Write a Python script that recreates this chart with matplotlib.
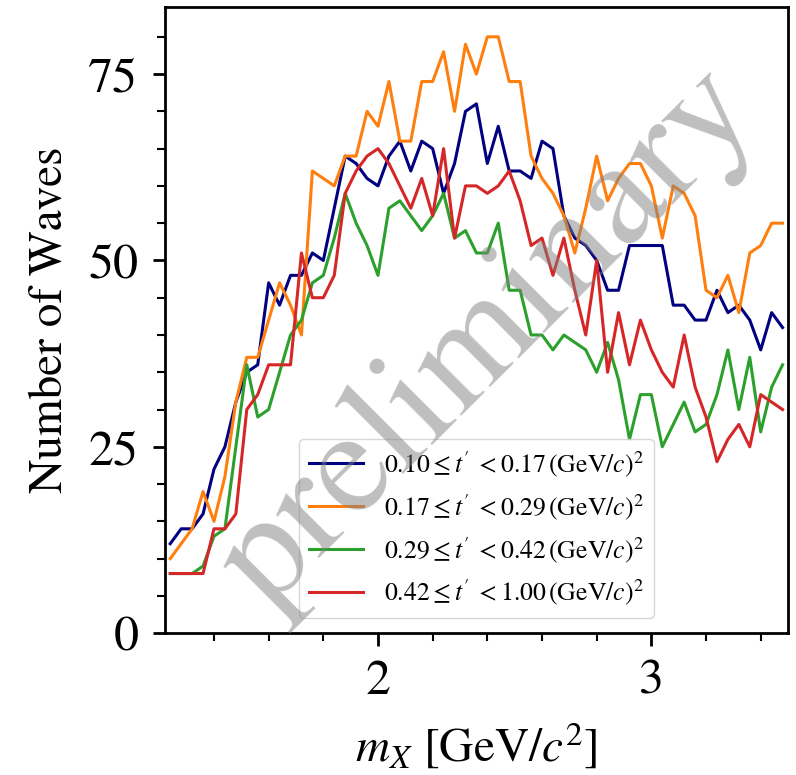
import numpy as np
import matplotlib
matplotlib.use("Agg")
import matplotlib.pyplot as plt
from matplotlib.ticker import MultipleLocator

plt.rcParams['font.family'] = ['STIXGeneral', 'DejaVu Serif']
plt.rcParams['mathtext.fontset'] = 'stix'

# mass bin centres: 57 bins of 40 MeV between 1.22 and 3.50 GeV
m_lo, m_hi, n_bins = 1.22, 3.50, 57
mass = np.linspace(m_lo, m_hi, n_bins + 1)
mass = 0.5 * (mass[1:] + mass[:-1])

labels = [
    r"$0.10 \leq t'\; < 0.17\,(\mathrm{GeV}/c)^2$",
    r"$0.17 \leq t'\; < 0.29\,(\mathrm{GeV}/c)^2$",
    r"$0.29 \leq t'\; < 0.42\,(\mathrm{GeV}/c)^2$",
    r"$0.42 \leq t'\; < 1.00\,(\mathrm{GeV}/c)^2$",
]
colors = ['navy', 'tab:orange', 'tab:green', 'tab:red']

waves_bin1 = [12, 14, 14, 16, 22, 25, 31, 35, 36, 47, 44, 48, 48,
              51, 50, 57, 64, 63, 61, 60, 64, 66, 62,
              66, 65, 59, 63, 70, 71, 63, 68, 62, 62,
              61, 66, 65, 56, 53, 52, 50, 46, 46, 52,
              52, 52, 52, 44, 44, 42, 42, 46, 43, 44, 42, 38, 43, 41]
waves_bin2 = [10, 12, 14, 19, 15, 21, 31, 37, 37, 42, 47, 44, 40,
              62, 61, 60, 64, 64, 70, 68, 74, 66, 66,
              74, 74, 78, 70, 79, 75, 80, 80, 74, 74,
              64, 61, 59, 56, 51, 57, 64, 58, 61, 63,
              63, 60, 53, 60, 59, 56, 46, 45, 48, 43, 51, 52, 55, 55]
waves_bin3 = [8, 8, 8, 9, 13, 14, 25, 36, 29, 30, 35, 40, 42,
              47, 48, 53, 59, 55, 52, 48, 57, 58, 56,
              54, 56, 59, 53, 54, 51, 51, 55, 46, 46,
              40, 40, 38, 40, 39, 38, 35, 39, 34, 26,
              32, 32, 25, 28, 31, 27, 28, 32, 38, 30, 37, 27, 33, 36]
waves_bin4 = [8, 8, 8, 8, 14, 14, 16, 30, 32, 36, 36, 36, 51,
              45, 45, 48, 59, 62, 64, 65, 63, 60, 57,
              61, 56, 65, 53, 60, 60, 59, 60, 62, 58,
              52, 53, 48, 53, 46, 40, 50, 35, 43, 36,
              42, 38, 35, 33, 40, 33, 29, 23, 26, 28, 25, 32, 31, 30]
waves = [waves_bin1, waves_bin2, waves_bin3, waves_bin4]

fig = plt.figure(figsize=(7.96, 7.75), dpi=100)
ax = fig.add_axes([0.207, 0.183, 0.783, 0.808])

for y, c, lab in zip(waves, colors, labels):
    ax.plot(mass, y, color=c, lw=2.2, label=lab)

ax.set_xlim(m_lo, m_hi)
ax.set_ylim(0, 1.05 * max(max(w) for w in waves))

ax.xaxis.set_major_locator(MultipleLocator(1))
ax.xaxis.set_minor_locator(MultipleLocator(0.2))
ax.yaxis.set_major_locator(MultipleLocator(25))
ax.yaxis.set_minor_locator(MultipleLocator(5))
ax.tick_params(which='major', length=9, width=2, labelsize=36, pad=10)
ax.tick_params(which='minor', length=6, width=1.5)
for s in ax.spines.values():
    s.set_linewidth(2)

ax.set_xlabel(r'$m_X$ [GeV/$c^2$]', fontsize=34, labelpad=12)
ax.set_ylabel('Number of Waves', fontsize=34, labelpad=12)

ax.legend(loc='lower center', fontsize=18.5, handlelength=2.1,
          borderaxespad=0.6, labelspacing=0.5)

# watermark
ax.text(0.52, 0.47, 'preliminary', transform=ax.transAxes, fontsize=108,
        color='gray', alpha=0.5, rotation=45, ha='center', va='center',
        zorder=10)

fig.savefig('out.png', dpi=100)
